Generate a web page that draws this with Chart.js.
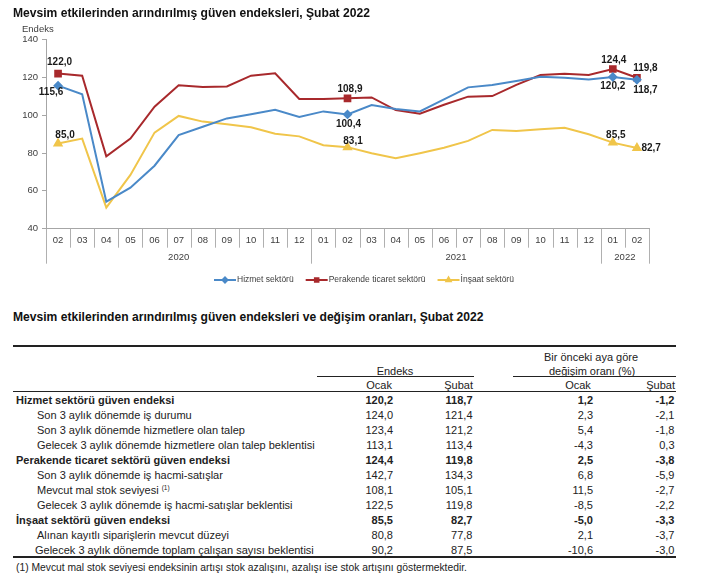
<!DOCTYPE html>
<html><head><meta charset="utf-8">
<script src="https://cdn.jsdelivr.net/npm/chart.js@4.4.1/dist/chart.umd.min.js"></script>
<style>
body{margin:0;background:#fff;font-family:"Liberation Sans",Arial,sans-serif;color:#1a1a1a;}
#wrap{position:relative;width:703px;height:583px;overflow:hidden;background:#fff;}
.abs{position:absolute;white-space:nowrap;}
.title{font-weight:bold;font-size:12.1px;line-height:14px;color:#111;z-index:2;}
canvas{position:absolute;left:0;top:0;}
.cell{position:absolute;white-space:nowrap;font-size:11px;line-height:12px;color:#222;}
.rule{position:absolute;background:#222;}
</style></head><body>
<div id="wrap">
<div class="abs title" style="left:13px;top:6px">Mevsim etkilerinden arındırılmış güven endeksleri, Şubat 2022</div>
<div class="abs" style="left:22px;top:23px;font-size:9.5px;line-height:12px;color:#404040;z-index:2">Endeks</div>
<canvas id="c" width="703" height="300"></canvas>
<div class="abs title" style="left:13px;top:310px">Mevsim etkilerinden arındırılmış güven endeksleri ve değişim oranları, Şubat 2022</div>
<div id="table"></div>
</div>
<script>
// ---------- chart data ----------
const categories = ['02','03','04','05','06','07','08','09','10','11','12','01','02','03','04','05','06','07','08','09','10','11','12','01','02'];
const yearLabels = ['2020','2021','2022'];
const yearSpans = [11, 12, 2];
const seriesNames = ['Hizmet sektörü','Perakende ticaret sektörü','İnşaat sektörü'];
const hizmet    = [115.6,111.0,54.3,61.7,73.3,89.5,93.9,98.3,100.5,102.9,99.0,102.0,100.4,105.4,103.3,102.0,108.3,114.7,116.0,118.1,120.3,119.8,118.8,120.2,118.7];
const perakende = [122.0,120.9,78.3,87.6,104.5,115.8,114.9,115.2,120.9,122.1,108.6,108.6,108.9,109.4,102.7,100.8,105.5,109.8,110.1,116.0,121.2,121.9,121.2,124.4,119.8];
const insaat    = [85.0,87.6,51.1,68.4,90.8,99.6,96.6,95.2,93.6,90.2,88.8,84.1,83.1,79.9,77.2,79.9,82.8,86.4,92.2,91.6,92.5,93.4,89.9,85.5,82.7];
const markedIdx = [0, 12, 23, 24];
const yTicks = [40, 60, 80, 100, 120, 140];

// ---------- table data ----------
const rowLabels = [
 'Hizmet sektörü güven endeksi',
 'Son 3 aylık dönemde iş durumu',
 'Son 3 aylık dönemde hizmetlere olan talep',
 'Gelecek 3 aylık dönemde hizmetlere olan talep beklentisi',
 'Perakende ticaret sektörü güven endeksi',
 'Son 3 aylık dönemde iş hacmi-satışlar',
 'Mevcut mal stok seviyesi',
 'Gelecek 3 aylık dönemde iş hacmi-satışlar beklentisi',
 'İnşaat sektörü güven endeksi',
 'Alınan kayıtlı siparişlerin mevcut düzeyi',
 'Gelecek 3 aylık dönemde toplam çalışan sayısı beklentisi'
];
const rowLevel = [0,1,1,1,0,1,1,1,0,1,1];
const rowNotes = ['','','','','','','(1)','','','',''];
const endeksOcak   = [120.2,124.0,123.4,113.1,124.4,142.7,108.1,122.5,85.5,80.8,90.2];
const endeksSubat  = [118.7,121.4,121.2,113.4,119.8,134.3,105.1,119.8,82.7,77.8,87.5];
const degisimOcak  = [1.2,2.3,5.4,-4.3,2.5,6.8,11.5,-8.5,-5.0,2.1,-10.6];
const degisimSubat = [-1.2,-2.1,-1.8,0.3,-3.8,-5.9,-2.7,-2.2,-3.3,-3.7,-3.0];
const footnote = '(1) Mevcut mal stok seviyesi endeksinin artışı stok azalışını, azalışı ise stok artışını göstermektedir.';

const fmt = v => v.toFixed(1).replace('.', ',');

// ---------- chart ----------
const colors = ['#4a89c8', '#a8292c', '#f0c54a'];
const pStyles = ['rectRot', 'rect', 'triangle'];
const pRadius = [3.5, 4, 4];
const seriesData = [hizmet, perakende, insaat];

// label offsets [dx, dy, align] per dataset per marked index
const labelOffsets = [
  {0:[-7,6.5,'center'], 12:[1,9.7,'center'], 23:[0,9.2,'center'], 24:[8.5,10,'center']},
  {0:[1.5,-11,'center'], 12:[2.5,-9.5,'center'], 23:[1,-9,'center'], 24:[8.5,-9,'center']},
  {0:[7,-8.6,'center'], 12:[5.5,-6.3,'center'], 23:[3,-7.6,'center'], 24:[4.5,0.3,'left']}
];

const deco = {
  id: 'deco',
  afterDraw(chart) {
    const ctx = chart.ctx;
    const xs = chart.scales.x;
    const step = xs.getPixelForValue(1) - xs.getPixelForValue(0);
    const x0 = xs.getPixelForValue(0) - step / 2;
    const yA = chart.chartArea.bottom;
    ctx.save();
    // separators
    const bounds = [0];
    yearSpans.forEach(s => bounds.push(bounds[bounds.length - 1] + s));
    ctx.strokeStyle = '#b0b0b0';
    ctx.lineWidth = 1;
    for (let j = 0; j <= categories.length; j++) {
      const x = Math.round(x0 + j * step) + 0.5;
      const long = bounds.includes(j);
      ctx.beginPath();
      ctx.moveTo(x, yA);
      ctx.lineTo(x, yA + (long ? 35 : 19));
      ctx.stroke();
    }
    // year labels
    ctx.fillStyle = '#404040';
    ctx.font = '9.5px "Liberation Sans", Arial, sans-serif';
    ctx.textAlign = 'center';
    ctx.textBaseline = 'middle';
    yearLabels.forEach((lab, k) => {
      const cx = x0 + (bounds[k] + bounds[k + 1]) / 2 * step;
      ctx.fillText(lab, cx, yA + 28.5);
    });
    // data labels
    ctx.font = 'bold 10px "Liberation Sans", Arial, sans-serif';
    ctx.fillStyle = '#1a1a1a';
    chart.data.datasets.forEach((ds, d) => {
      const meta = chart.getDatasetMeta(d);
      markedIdx.forEach(i => {
        const pt = meta.data[i];
        const o = labelOffsets[d][i];
        ctx.textAlign = o[2];
        ctx.fillText(fmt(ds.data[i]), pt.x + o[0], pt.y + o[1]);
      });
    });
    // legend
    const ly = 280;
    let lx = 214;
    ctx.font = '8.5px "Liberation Sans", Arial, sans-serif';
    ctx.textAlign = 'left';
    chart.data.datasets.forEach((ds, d) => {
      ctx.strokeStyle = ds.borderColor;
      ctx.lineWidth = 2;
      ctx.beginPath();
      ctx.moveTo(lx, ly);
      ctx.lineTo(lx + 22, ly);
      ctx.stroke();
      ctx.fillStyle = ds.borderColor;
      Chart.helpers.drawPoint(ctx, {pointStyle: ds.pointStyle, radius: 2.5, borderWidth: 1}, lx + 11, ly);
      ctx.fillStyle = '#404040';
      ctx.fillText(ds.label, lx + 23, ly);
      lx += 23 + ctx.measureText(ds.label).width + 12;
    });
    ctx.restore();
  }
};

new Chart(document.getElementById('c'), {
  type: 'line',
  data: {
    labels: categories,
    datasets: seriesData.map((arr, d) => ({
      label: seriesNames[d],
      data: arr,
      borderColor: colors[d],
      backgroundColor: colors[d],
      pointBackgroundColor: colors[d],
      pointBorderColor: colors[d],
      borderWidth: 2,
      tension: 0,
      fill: false,
      pointStyle: pStyles[d],
      pointRadius: ctx => markedIdx.includes(ctx.dataIndex) ? pRadius[d] : 0,
      pointHoverRadius: 0
    }))
  },
  options: {
    responsive: false,
    animation: false,
    events: [],
    layout: { padding: { top: 39.5, right: 54, left: 0, bottom: 0 } },
    plugins: { legend: { display: false }, tooltip: { enabled: false }, title: { display: false } },
    scales: {
      x: {
        type: 'category',
        offset: true,
        grid: { display: false, drawTicks: false },
        border: { display: true, color: '#a6a6a6', width: 1 },
        ticks: { color: '#404040', font: { size: 9.5, family: '"Liberation Sans", Arial, sans-serif' }, padding: 6, maxRotation: 0, autoSkip: false },
        afterFit: s => { s.height = 71.3; }
      },
      y: {
        min: 40, max: 140,
        afterBuildTicks: s => { s.ticks = yTicks.map(v => ({ value: v })); },
        grid: { drawOnChartArea: false, drawTicks: true, tickLength: 4, color: '#a6a6a6' },
        border: { display: true, color: '#a6a6a6', width: 1 },
        ticks: { color: '#404040', font: { size: 9.5, family: '"Liberation Sans", Arial, sans-serif' }, padding: 4 },
        afterFit: s => { s.width = 46; }
      }
    }
  },
  plugins: [deco]
});

// ---------- table ----------
const T = document.getElementById('table');
function add(html, style, cls) {
  const d = document.createElement('div');
  d.className = cls || 'cell';
  d.style.cssText = style;
  d.innerHTML = html;
  T.appendChild(d);
  return d;
}
// rules
add('', 'left:13px;top:345px;width:663px;height:2px;', 'rule');
add('', 'left:317px;top:376px;width:157px;height:1px;', 'rule');
add('', 'left:513px;top:376px;width:163px;height:1px;', 'rule');
add('', 'left:13px;top:391px;width:663px;height:1px;', 'rule');
add('', 'left:13px;top:555.5px;width:663px;height:2px;', 'rule');
function addC(text, cx, cy, extra) {
  return add(text, 'top:' + (cy - 6) + 'px;left:' + cx + 'px;transform:translateX(-50%);' + (extra || ''));
}
function addR(text, rx, cy, extra) {
  return add(text, 'top:' + (cy - 6) + 'px;right:' + (703 - rx) + 'px;text-align:right;' + (extra || ''));
}
addC('Endeks', 395, 371);
addC('Bir önceki aya göre', 591, 357);
addC('değişim oranı (%)', 592, 371);
addR('Ocak', 392, 384.5);
addR('Şubat', 473, 384.5);
addC('Ocak', 578, 384.5);
addR('Şubat', 675, 384.5);
// rows
rowLabels.forEach((lab, i) => {
  const cy = 400 + 15 * i;
  const bold = rowLevel[i] === 0 ? 'font-weight:bold;' : '';
  const note = rowNotes[i] ? ' <sup style="font-size:6.5px;vertical-align:4px;line-height:0">' + rowNotes[i] + '</sup>' : '';
  const left = rowLevel[i] === 0 ? 16 : (i === rowLabels.length - 1 ? 35 : 37);
  add(lab + note, 'top:' + (cy - 6) + 'px;left:' + left + 'px;' + bold);
  addR(fmt(endeksOcak[i]), 393, cy, bold);
  addR(fmt(endeksSubat[i]), 472.5, cy, bold);
  addR(fmt(degisimOcak[i]), 593, cy, bold);
  addR(fmt(degisimSubat[i]), 674.5, cy, bold);
});
add(footnote, 'top:562px;left:16px;font-size:10.3px;line-height:11px;');
</script>
</body></html>
